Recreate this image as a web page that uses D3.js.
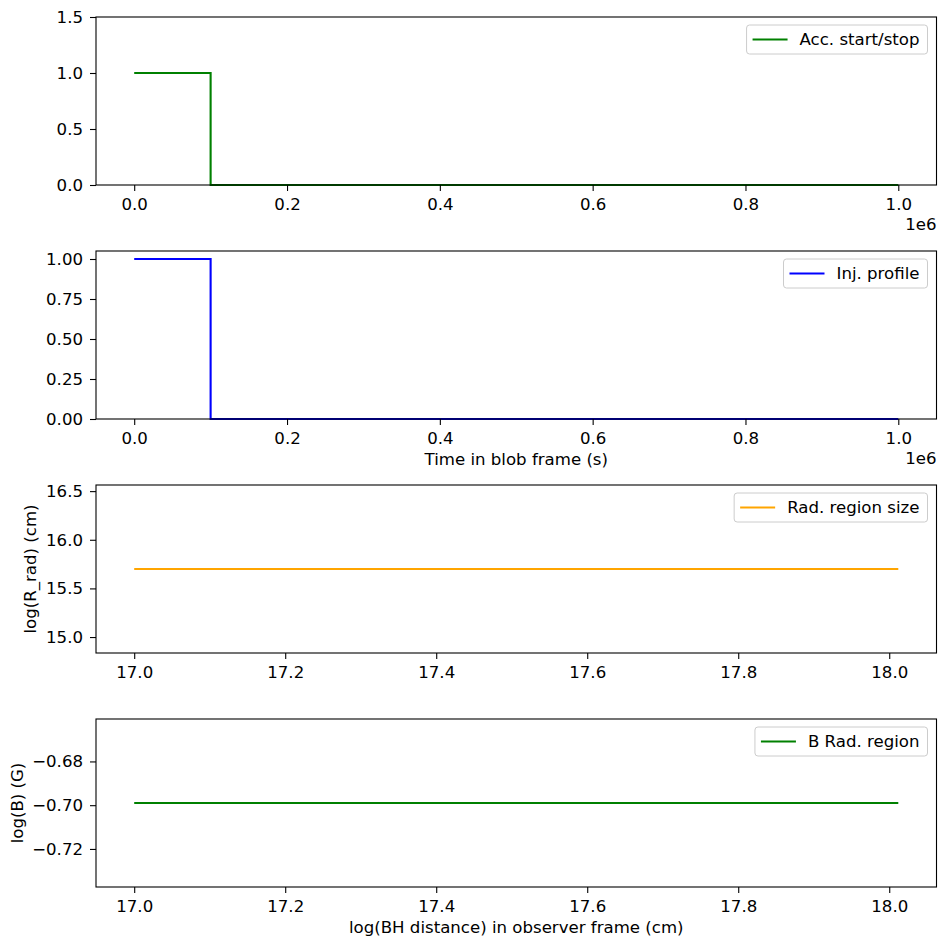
<!DOCTYPE html>
<html>
<head>
<meta charset="utf-8">
<script src="https://cdn.jsdelivr.net/npm/d3@7"></script>
<style>
  html, body { margin: 0; padding: 0; background: #fff; }
  svg text { font-family: "DejaVu Sans", sans-serif; fill: #000; }
</style>
</head>
<body>
<svg id="chart" width="947" height="947"></svg>
<script>
// ---- data ----
const accTime = [0, 100000, 100000, 1000000];
const accValue = [1, 1, 0, 0];
const injTime = [0, 100000, 100000, 1000000];
const injValue = [1, 1, 0, 0];
const distLog = [17.0, 18.012];
const radSizeLog = [15.699, 15.699];
const bFieldLog = [-0.699, -0.699];

const timeTicks = [0, 200000, 400000, 600000, 800000, 1000000];
const distTicks = [17.0, 17.2, 17.4, 17.6, 17.8, 18.0];
const accYTicks = [0, 0.5, 1.0, 1.5];
const injYTicks = [0, 0.25, 0.5, 0.75, 1.0];
const radYTicks = [15.0, 15.5, 16.0, 16.5];
const bYTicks = [-0.72, -0.70, -0.68];

const legendLabels = ["Acc. start/stop", "Inj. profile", "Rad. region size", "B Rad. region"];
const axisLabels = { x2: "Time in blob frame (s)", x4: "log(BH distance) in observer frame (cm)",
                     y3: "log(R_rad) (cm)", y4: "log(B) (G)" };

// ---- layout ----
const svg = d3.select("#chart");
const FS = 16.6;
const left = 96, right = 936.5, ph = 168;
const tops = [17, 251, 485, 719];
const minus = s => s.replace("-", "\u2212");

const panels = [
  { x: accTime, y: accValue, xd: [-50000, 1050000], yd: [0, 1.5], xt: timeTicks, yt: accYTicks,
    xf: v => (v / 1e6).toFixed(1), yf: v => v.toFixed(1), color: "green", label: legendLabels[0], offset: "1e6" },
  { x: injTime, y: injValue, xd: [-50000, 1050000], yd: [0, 1.05], xt: timeTicks, yt: injYTicks,
    xf: v => (v / 1e6).toFixed(1), yf: v => v.toFixed(2), color: "blue", label: legendLabels[1], offset: "1e6",
    xlabel: axisLabels.x2 },
  { x: distLog, y: radSizeLog, xd: [16.9494, 18.0626], yd: [14.836, 16.563], xt: distTicks, yt: radYTicks,
    xf: v => v.toFixed(1), yf: v => v.toFixed(1), color: "orange", label: legendLabels[2],
    ylabel: axisLabels.y3, ylx: 36 },
  { x: distLog, y: bFieldLog, xd: [16.9494, 18.0626], yd: [-0.7374, -0.6606], xt: distTicks, yt: bYTicks,
    xf: v => v.toFixed(1), yf: v => minus(v.toFixed(2)), color: "green", label: legendLabels[3],
    xlabel: axisLabels.x4, ylabel: axisLabels.y4, ylx: 22.5 }
];

panels.forEach((p, i) => {
  const top = tops[i], bottom = top + ph;
  const x = d3.scaleLinear().domain(p.xd).range([left, right]);
  const y = d3.scaleLinear().domain(p.yd).range([bottom, top]);
  const g = svg.append("g");

  // line
  const pts = p.x.map((d, k) => [d, p.y[k]]);
  g.append("path")
    .attr("d", d3.line().x(d => x(d[0])).y(d => y(d[1]))(pts))
    .attr("fill", "none").attr("stroke", p.color).attr("stroke-width", 2.1)
    .attr("stroke-linejoin", "miter").attr("stroke-linecap", "butt");

  // axes
  const xa = g.append("g").attr("transform", `translate(0,${bottom})`)
    .call(d3.axisBottom(x).tickValues(p.xt).tickFormat(p.xf).tickSize(6).tickPadding(7));
  const ya = g.append("g").attr("transform", `translate(${left},0)`)
    .call(d3.axisLeft(y).tickValues(p.yt).tickFormat(p.yf).tickSize(6).tickPadding(7));
  [xa, ya].forEach(a => {
    a.select(".domain").remove();
    a.selectAll("line").attr("stroke", "#000").attr("stroke-width", 1.1);
    a.selectAll("text").style("font-size", FS + "px").attr("fill", "#000")
      .style("font-family", "'DejaVu Sans', sans-serif");
  });

  // frame
  g.append("rect").attr("x", left).attr("y", top).attr("width", right - left).attr("height", ph)
    .attr("fill", "none").attr("stroke", "#000").attr("stroke-width", 1.1);

  // offset text
  if (p.offset) {
    g.append("text").attr("x", right).attr("y", bottom + 45).attr("text-anchor", "end")
      .style("font-size", FS + "px").text(p.offset);
  }
  if (p.xlabel) {
    g.append("text").attr("x", (left + right) / 2).attr("y", bottom + 46).attr("text-anchor", "middle")
      .style("font-size", FS + "px").text(p.xlabel);
  }
  if (p.ylabel) {
    g.append("text").attr("transform", `translate(${p.ylx},${top + ph / 2}) rotate(-90)`)
      .attr("text-anchor", "middle").style("font-size", FS + "px").text(p.ylabel);
  }

  // legend
  const lg = g.append("g");
  const txt = lg.append("text").style("font-size", FS + "px").text(p.label);
  const tw = txt.node().getComputedTextLength();
  const bw = tw + 61, bh = 29;
  const bx = right - 9 - bw, by = top + 8;
  lg.insert("rect", "text").attr("x", bx).attr("y", by).attr("width", bw).attr("height", bh)
    .attr("rx", 3).attr("fill", "#fff").attr("fill-opacity", 0.8)
    .attr("stroke", "#cccccc").attr("stroke-width", 1);
  lg.append("line").attr("x1", bx + 6).attr("x2", bx + 41).attr("y1", by + bh / 2).attr("y2", by + bh / 2)
    .attr("stroke", p.color).attr("stroke-width", 2.1);
  txt.attr("x", bx + 53).attr("y", by + bh / 2).attr("dy", "0.35em");
});
</script>
</body>
</html>
